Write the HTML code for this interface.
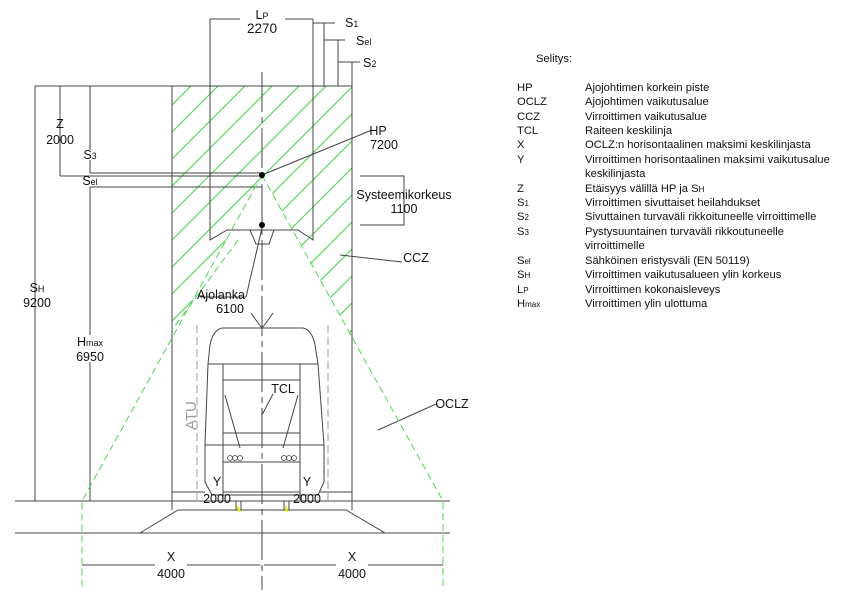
<!DOCTYPE html>
<html><head><meta charset="utf-8"><style>
body{margin:0;background:#fff;width:852px;height:593px;overflow:hidden}
svg{display:block}
text{font-family:"Liberation Sans",sans-serif;fill:#111}
.c{font-family:"DejaVu Sans Condensed","DejaVu Sans",sans-serif;font-size:12.5px}
.l{font-size:11.2px}
</style></head><body>
<svg width="852" height="593" viewBox="0 0 852 593" xmlns="http://www.w3.org/2000/svg">
<defs>
<clipPath id="cp"><polygon points="172,86 352,86 352,337 262,175 172,338"/></clipPath>
</defs>
<g clip-path="url(#cp)" stroke="#44d844" stroke-width="1.1">
<path d="M-100,350 L170,80 M-73,350 L197,80 M-46,350 L224,80 M-19,350 L251,80 M8,350 L278,80 M35,350 L305,80 M62,350 L332,80 M89,350 L359,80 M116,350 L386,80 M143,350 L413,80 M170,350 L440,80 M197,350 L467,80 M224,350 L494,80 M251,350 L521,80 M278,350 L548,80 M305,350 L575,80 M332,350 L602,80"/>
</g>
<g stroke="#444" stroke-width="1" fill="none">
<line x1="35" y1="86" x2="352" y2="86"/>
<line x1="172" y1="86" x2="172" y2="510"/>
<line x1="352" y1="62" x2="352" y2="510"/>
<polyline points="210,19 210,240 227,230 298,230 313,240 313,19"/>
<line x1="210" y1="19" x2="240" y2="19"/><line x1="285" y1="19" x2="313" y2="19"/>
<polyline points="250,230 256,244 269,244 274,230"/>
<polyline points="313,23 335,23"/><line x1="324" y1="23" x2="324" y2="86"/>
<polyline points="324,40 345,40"/><line x1="338" y1="40" x2="338" y2="86"/>
<polyline points="338,62 360,62"/>
<line x1="90" y1="173" x2="262" y2="173"/>
<line x1="60" y1="176" x2="262" y2="176"/>
<line x1="90" y1="187" x2="262" y2="187"/>
<line x1="35" y1="86" x2="35" y2="501"/>
<line x1="60" y1="86" x2="60" y2="176"/>
<line x1="90" y1="86" x2="90" y2="150"/><line x1="90" y1="160" x2="90" y2="173"/>
<line x1="90" y1="187" x2="90" y2="335"/><line x1="90" y1="362" x2="90" y2="501"/>
<polyline points="360,176 404,176 404,225 360,225"/>
<line x1="15" y1="501" x2="450" y2="501"/>
<line x1="15" y1="533" x2="450" y2="533"/>
<polyline points="140,533 178,510 346,510 385,533"/>
<line x1="262" y1="175" x2="372" y2="130"/>
<line x1="340" y1="255" x2="402" y2="262"/>
<line x1="378" y1="430" x2="436" y2="404"/>
<line x1="262" y1="228" x2="246" y2="297"/><line x1="200" y1="297" x2="246" y2="297"/>
<line x1="262" y1="415" x2="273" y2="394"/>
<line x1="172" y1="492" x2="205" y2="492"/><line x1="223" y1="492" x2="262" y2="492"/>
<line x1="262" y1="492" x2="300" y2="492"/><line x1="320" y1="492" x2="352" y2="492"/>
<line x1="82" y1="565" x2="155" y2="565"/><line x1="187" y1="565" x2="260" y2="565"/>
<line x1="264" y1="565" x2="336" y2="565"/><line x1="368" y1="565" x2="443" y2="565"/>
<path d="M222,328 L303,328 Q312,330 315,345 L318,364 L208,364 L210,345 Q213,330 222,328 Z"/>
<polyline points="208,364 205,445 205,482 212,495 318,495 324,482 324,445 318,364"/>
<line x1="205" y1="445" x2="324" y2="445"/>
<polyline points="223,364 223,500"/><polyline points="300,364 300,500"/>
<line x1="223" y1="380" x2="300" y2="380"/>
<line x1="223" y1="433" x2="300" y2="433"/>
<line x1="223" y1="462" x2="300" y2="462"/>
<line x1="225" y1="395" x2="240" y2="448"/><line x1="298" y1="395" x2="283" y2="448"/>
<polyline points="251,313 258,323 262,328 266,323 273,313"/>
<line x1="236" y1="501" x2="236" y2="510"/><line x1="241" y1="501" x2="241" y2="510"/>
<line x1="284" y1="501" x2="284" y2="510"/><line x1="289" y1="501" x2="289" y2="510"/>
</g>
<g fill="none" stroke="#444" stroke-width="0.8">
<circle cx="230" cy="458" r="2.5"/><circle cx="235" cy="458" r="2.5"/><circle cx="240" cy="458" r="2.5"/>
<circle cx="284" cy="458" r="2.5"/><circle cx="289" cy="458" r="2.5"/><circle cx="294" cy="458" r="2.5"/>
</g>
<line x1="262" y1="72" x2="262" y2="590" stroke="#444" stroke-width="1" stroke-dasharray="40,5,6,5"/>
<g stroke="#999" stroke-dasharray="8,4" stroke-width="1">
<line x1="197" y1="325" x2="197" y2="500"/><line x1="328" y1="325" x2="328" y2="500"/>
</g>
<g stroke="#4cd84c" stroke-width="1" stroke-dasharray="7,4" fill="none">
<polyline points="262,175 82,501 82,590"/>
<polyline points="262,175 443,501 443,590"/>
<line x1="238" y1="240" x2="172" y2="330"/>
</g>
<line x1="237" y1="506" x2="240" y2="512" stroke="#ee0" stroke-width="2"/>
<line x1="286" y1="506" x2="287" y2="512" stroke="#ee0" stroke-width="2"/>
<circle cx="262" cy="175" r="3" fill="#000"/>
<circle cx="262" cy="225" r="3" fill="#000"/>
<g class="c" text-anchor="middle">
<text x="262" y="19">L<tspan font-size="9">P</tspan></text>
<text x="262" y="33" font-size="13.5">2270</text>
<text x="345" y="27" text-anchor="start">S<tspan font-size="9">1</tspan></text>
<text x="356" y="45" text-anchor="start">S<tspan font-size="9">el</tspan></text>
<text x="363" y="67" text-anchor="start">S<tspan font-size="9">2</tspan></text>
<text x="60" y="128">Z</text><text x="60" y="144">2000</text>
<text x="90" y="159">S<tspan font-size="9">3</tspan></text>
<text x="90" y="185">S<tspan font-size="9">el</tspan></text>
<text x="37" y="292">S<tspan font-size="9">H</tspan></text>
<text x="37" y="307">9200</text>
<text x="90" y="346">H<tspan font-size="9">max</tspan></text>
<text x="90" y="361">6950</text>
<text x="378" y="135">HP</text><text x="384" y="149">7200</text>
<text x="404" y="199">Systeemikorkeus</text><text x="404" y="213">1100</text>
<text x="416" y="262">CCZ</text>
<text x="452" y="408">OCLZ</text>
<text x="221" y="299">Ajolanka</text><text x="230" y="313">6100</text>
<text x="283" y="393">TCL</text>
<text x="217" y="486">Y</text><text x="217" y="503">2000</text>
<text x="307" y="486">Y</text><text x="307" y="503">2000</text>
<text x="171" y="561">X</text><text x="171" y="578">4000</text>
<text x="352" y="561">X</text><text x="352" y="578">4000</text>
</g>
<text transform="translate(196,430) rotate(-90)" font-size="15" font-family="DejaVu Sans, sans-serif" style="fill:#999">ATU</text>
<g class="l">
<text x="536" y="62">Selitys:</text>
<text x="517" y="91">HP</text><text x="585" y="91">Ajojohtimen korkein piste</text>
<text x="517" y="105">OCLZ</text><text x="585" y="105">Ajojohtimen vaikutusalue</text>
<text x="517" y="120">CCZ</text><text x="585" y="120">Virroittimen vaikutusalue</text>
<text x="517" y="134">TCL</text><text x="585" y="134">Raiteen keskilinja</text>
<text x="517" y="148">X</text><text x="585" y="148">OCLZ:n horisontaalinen maksimi keskilinjasta</text>
<text x="517" y="163">Y</text><text x="585" y="163">Virroittimen horisontaalinen maksimi vaikutusalue</text>
<text x="585" y="177">keskilinjasta</text>
<text x="517" y="192">Z</text><text x="585" y="192">Etäisyys välillä HP ja S<tspan font-size="8">H</tspan></text>
<text x="517" y="206">S<tspan font-size="8">1</tspan></text><text x="585" y="206">Virroittimen sivuttaiset heilahdukset</text>
<text x="517" y="220">S<tspan font-size="8">2</tspan></text><text x="585" y="220">Sivuttainen turvaväli rikkoituneelle virroittimelle</text>
<text x="517" y="235">S<tspan font-size="8">3</tspan></text><text x="585" y="235">Pystysuuntainen turvaväli rikkoutuneelle</text>
<text x="585" y="249">virroittimelle</text>
<text x="517" y="264">S<tspan font-size="8">el</tspan></text><text x="585" y="264">Sähköinen eristysväli (EN 50119)</text>
<text x="517" y="278">S<tspan font-size="8">H</tspan></text><text x="585" y="278">Virroittimen vaikutusalueen ylin korkeus</text>
<text x="517" y="293">L<tspan font-size="8">P</tspan></text><text x="585" y="293">Virroittimen kokonaisleveys</text>
<text x="517" y="307">H<tspan font-size="8">max</tspan></text><text x="585" y="307">Virroittimen ylin ulottuma</text>
</g>
</svg>
</body></html>
